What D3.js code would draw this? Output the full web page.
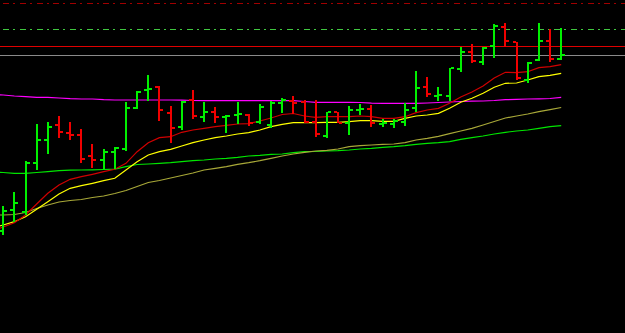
<!DOCTYPE html>
<html>
<head>
<meta charset="utf-8">
<script src="https://cdn.jsdelivr.net/npm/d3@7"></script>
<style>
html,body{margin:0;padding:0;background:#000;overflow:hidden;}
svg{display:block;}
</style>
</head>
<body>
<svg id="chart" width="625" height="333"></svg>
<script>
// ---- data (price units) ----
const opens  = [69,90,88,137,160,175,167,165,144,140,148,151,192,210,213,187,173,200,183,188,183,185,185,178,175,197,199,198,178,164,188,177,190,191,176,176,178,192,213,204,204,231,248,238,254,273,258,220,240,259,241];
const highs  = [94,108,139,176,178,184,178,171,156,151,153,198,209,225,214,194,199,210,198,193,185,198,186,196,199,202,204,200,200,188,188,194,196,195,181,181,197,229,223,213,232,253,256,253,276,277,258,238,277,271,272];
const lows   = [65,78,85,130,146,162,160,137,132,131,131,149,191,199,179,157,170,181,178,177,167,176,174,176,172,187,186,177,163,162,177,165,185,173,173,172,174,188,203,199,199,228,237,235,242,253,220,217,239,238,240];
const closes = [89,97,137,160,173,168,165,141,140,148,152,192,208,211,190,172,198,184,188,183,184,186,177,193,197,200,197,178,166,188,177,190,191,177,176.5,179,190,212,206,205,232,248,239,252,274,259,222,237,259,241,245];

// moving averages, first value belongs to the bar before the first visible one
const maRed     = [69,73,77.3,85,96,106.7,115,120.7,123.3,125.7,128.3,130.7,136.7,148.3,157.3,162.3,163.3,167.7,170,171.7,173.3,174.7,176,176.3,179,182,185.5,186.5,184,182.7,183.3,183.3,183.3,184,183.3,181.7,181.7,183.3,187.3,190,191.7,196.7,203,208,214,222,227.7,227.3,228.3,232.3,233.3,235.3];
const maYellow  = [72,75,78.3,83.3,90.7,98.3,106,111.7,114.3,116.7,119.3,121.7,130,138.3,145,148.3,150.7,154,157.3,160,162.3,164,166,167.3,170,173.3,175.7,177.3,177.3,177.3,177.7,177.7,178.3,179.3,179.3,178.7,178.7,181.7,184,185,186.7,191.7,197.7,201.7,206.7,212.7,216.7,217,220,223.3,224.7,226.7];
const maOlive   = [85,85,85.5,87.5,91.5,95,98,99.5,100.5,102.5,104,106.5,109.5,113.5,117.5,119.5,122,124.5,127,130,131.7,133.3,135.7,137.3,139.3,141.7,144,146,147.7,149,149.7,151,153.3,154.3,155,155.7,156,157.3,160,161.7,163.7,166.3,169,171.7,175,178.5,182,184,186,188.3,190.3,192.5];
const maGreen   = [127.7,127.5,126.7,126.7,127.5,128.3,129.3,129.8,130,130.2,130.5,130.8,133.3,135.5,136,136.7,137.3,138.3,139.3,140,141,141.7,142.7,144,144.7,145.7,146,147.3,148.3,148.5,149,149.3,150,151,151.7,152.7,153.3,154.3,155.7,156.7,157.3,158.3,160.7,162.3,164,166,167.7,169,170,171.7,173.3,174.3];
const maMagenta = [205.5,205,204,203.3,202.7,202.7,202,201.3,201,201,200.3,200,200,200,200,200,200,199.8,199.5,199.3,199.3,199.3,199.3,199.3,199.3,199.3,199.3,199.3,198.5,197.7,197.7,197.7,197.7,197.5,196.8,196.7,196.7,196.7,196.7,197,197.5,198,198.5,198.8,199,199.5,200.3,200.7,201,201.2,201.5,202.7];

// horizontal reference levels
const levelValues = [297, 270.7, 253.7, 244.7];
const levelColors = ["#a00000", "#40c840", "#e00000", "#8a8a8a"];
const levelDash   = ["6,4,2,4.7", "6,4,2,4.7", null, null];

const maSeries = [
  {vals: maMagenta, color: "#ff00ff"},
  {vals: maGreen,   color: "#00e600"},
  {vals: maOlive,   color: "#a8a838"},
  {vals: maYellow,  color: "#ffff00"},
  {vals: maRed,     color: "#d00000"}
];

// ---- chart ----
const W = 625, H = 333;
const svg = d3.select("#chart");
svg.append("rect").attr("width", W).attr("height", H).attr("fill", "#000");

const x = d3.scaleLinear().domain([0, opens.length - 1]).range([3.2, 561.2]);
const y = d3.scaleLinear().domain([0, 300]).range([300, 0]);

// levels
svg.append("g").selectAll("line").data(levelValues).join("line")
  .attr("x1", (d, i) => i < 2 ? x(0) : 0)
  .attr("x2", W)
  .attr("y1", d => Math.round(y(d)) + 0.5)
  .attr("y2", d => Math.round(y(d)) + 0.5)
  .attr("stroke", (d, i) => levelColors[i])
  .attr("stroke-width", (d, i) => i === 2 ? 1.5 : 1)
  .attr("stroke-dasharray", (d, i) => levelDash[i])
  .attr("shape-rendering", "crispEdges");

// moving averages
const line = d3.line()
  .x((d, i) => x(i - 1))
  .y(d => y(d));
svg.append("g").selectAll("path").data(maSeries).join("path")
  .attr("d", s => line(s.vals))
  .attr("fill", "none")
  .attr("stroke", s => s.color)
  .attr("stroke-width", 1.2);

// OHLC bars
const bars = svg.append("g").attr("shape-rendering", "crispEdges");
const idx = d3.range(opens.length);
const col = i => closes[i] >= opens[i] ? "#00f000" : "#f00000";
const bx = i => Math.round(x(i));
bars.selectAll("rect.hl").data(idx).join("rect").attr("class", "hl")
  .attr("x", i => bx(i) - 1)
  .attr("width", 2)
  .attr("y", i => Math.round(y(highs[i])))
  .attr("height", i => Math.max(1, Math.round(y(lows[i])) - Math.round(y(highs[i]))))
  .attr("fill", col);
bars.selectAll("rect.op").data(idx).join("rect").attr("class", "op")
  .attr("x", i => bx(i) - 4)
  .attr("width", 3)
  .attr("y", i => Math.round(y(opens[i])) - 1)
  .attr("height", 2)
  .attr("fill", col);
bars.selectAll("rect.cl").data(idx).join("rect").attr("class", "cl")
  .attr("x", i => bx(i) + 1)
  .attr("width", 3)
  .attr("y", i => Math.round(y(closes[i])) - 1)
  .attr("height", 2)
  .attr("fill", col);
</script>
</body>
</html>
